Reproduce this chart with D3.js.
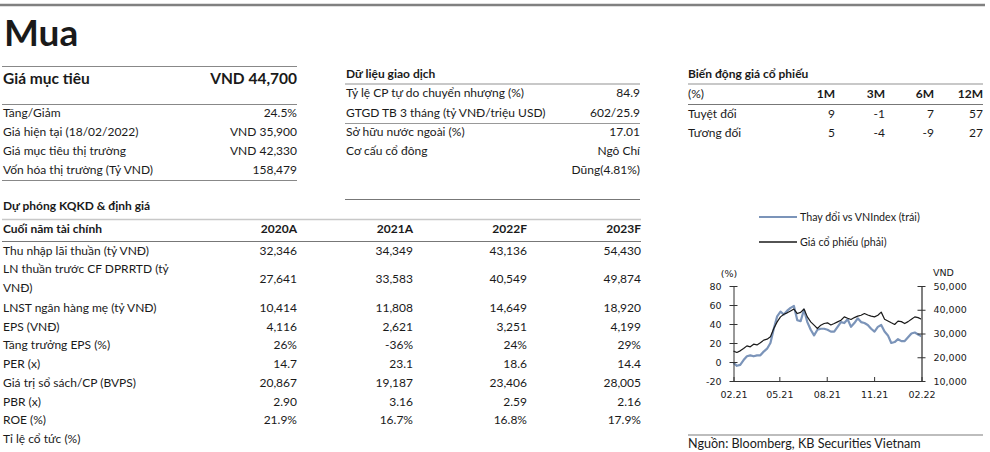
<!DOCTYPE html>
<html><head><meta charset="utf-8">
<script src="https://cdn.jsdelivr.net/npm/d3@7"></script>
<style>
html,body{margin:0;padding:0;background:#fff;}
svg{display:block;font-family:Lato, "Noto Sans", sans-serif;}
</style></head>
<body><svg id="c" width="990" height="452"></svg>
<script>
// ---------- data ----------
const rating = "Mua";
const targetLabel = "Giá mục tiêu";
const targetValue = "VND 44,700";
const summaryLabels = ["Tăng/Giảm", "Giá hiện tại (18/02/2022)", "Giá mục tiêu thị trường", "Vốn hóa thị trường (Tỷ VND)"];
const summaryValues = ["24.5%", "VND 35,900", "VND 42,330", "158,479"];

const tradeTitle = "Dữ liệu giao dịch";
const tradeLabels = ["Tỷ lệ CP tự do chuyển nhượng (%)", "GTGD TB 3 tháng (tỷ VNĐ/triệu USD)", "Sở hữu nước ngoài (%)", "Cơ cấu cổ đông", ""];
const tradeValues = ["84.9", "602/25.9", "17.01", "Ngô Chí", "Dũng(4.81%)"];

const perfTitle = "Biến động giá cổ phiếu";
const perfPeriods = ["1M", "3M", "6M", "12M"];
const perfRows = ["Tuyệt đối", "Tương đối"];
const perfAbs = [9, -1, 7, 57];
const perfRel = [5, -4, -9, 27];

const fcTitle = "Dự phóng KQKD & định giá";
const fcHeader = "Cuối năm tài chính";
const fcYears = ["2020A", "2021A", "2022F", "2023F"];
const fcRows = ["Thu nhập lãi thuần (tỷ VNĐ)", "LN thuần trước CF DPRRTD (tỷ|VNĐ)", "LNST ngân hàng mẹ (tỷ VNĐ)", "EPS (VNĐ)", "Tăng trưởng EPS (%)", "PER (x)", "Giá trị sổ sách/CP (BVPS)", "PBR (x)", "ROE (%)", "Tỉ lệ cổ tức (%)"];
const fc2020 = ["32,346", "27,641", "10,414", "4,116", "26%", "14.7", "20,867", "2.90", "21.9%", ""];
const fc2021 = ["34,349", "33,583", "11,808", "2,621", "-36%", "23.1", "19,187", "3.16", "16.7%", ""];
const fc2022 = ["43,136", "40,549", "14,649", "3,251", "24%", "18.6", "23,406", "2.59", "16.8%", ""];
const fc2023 = ["54,430", "49,874", "18,920", "4,199", "29%", "14.4", "28,005", "2.16", "17.9%", ""];

const chartStart = "2021-02-18", chartEnd = "2022-02-18";
const xTickDates = ["2021-02-18", "2021-05-18", "2021-08-18", "2021-11-18", "2022-02-18"];
const xTickLabels = ["02.21", "05.21", "08.21", "11.21", "02.22"];
const leftTicks = [-20, 0, 20, 40, 60, 80];
const rightTicks = [10000, 20000, 30000, 40000, 50000];
const seriesNames = ["Thay đổi vs VNIndex (trái)", "Giá cổ phiếu (phải)"];
// relative change vs VNIndex (%), roughly weekly
const relChange = [-1,-4,-3,2,6,7,6,7,7,11,14,20,35,48,53,50,54,57,59,44,43,55,42,34,28,34,35,35,34,32,32,37,42,41,45,37,41,46,42,41,39,35,32,37,39,32,28,20,21,24,22,22,26,30,31,29,27];
// share price (VND)
const price = [22600,22000,22700,23700,24800,24400,25500,25200,26100,27200,27600,28600,32100,34900,37000,38100,38700,39500,40300,38400,38900,40300,37000,34900,33500,32100,33500,34200,34500,33600,34200,34900,35600,37000,36400,35900,36700,37300,37700,38400,37800,37300,37000,37700,39000,36000,35300,34500,33800,35200,35000,34200,35000,36000,37000,36700,36000];
const sourceText = "Nguồn: Bloomberg, KB Securities Vietnam";

// ---------- drawing ----------
const svg = d3.select("#c");
const ink = "#1a1a1a";
const axisFont = "'DejaVu Sans', Verdana, sans-serif";
function line(x1, x2, y, color, w) {
  svg.append("line").attr("x1", x1).attr("x2", x2).attr("y1", y).attr("y2", y)
    .attr("stroke", color).attr("stroke-width", w);
}
function text(x, y, s, opts = {}) {
  const t = svg.append("text").attr("x", x).attr("y", y).text(s)
    .attr("fill", opts.fill || ink)
    .attr("font-size", opts.size || 12)
    .attr("font-weight", opts.bold ? 700 : 400)
    .attr("text-anchor", opts.anchor || "start");
  if (opts.family) t.attr("font-family", opts.family);
  return t;
}

// top rule + rating
line(0, 985, 5, "#808080", 2.5);
text(4, 46, rating, {size: 37, bold: true});

// left summary panel
line(2, 297, 66.5, "#888", 1);
text(3, 84, targetLabel, {size: 15.5, bold: true});
text(297, 84, targetValue, {size: 15.5, bold: true, anchor: "end"});
line(2, 297, 104.5, "#888", 1);
summaryLabels.forEach((l, i) => {
  text(3, 117 + i * 19, l);
  text(297, 117 + i * 19, summaryValues[i], {anchor: "end"});
});
line(2, 297, 180.5, "#888", 1);

// trade data panel
text(346, 78, tradeTitle, {bold: true});
line(345, 640, 84, "#c8c8c8", 2);
const tradeY = [97, 116.5, 136, 155, 173.5];
tradeLabels.forEach((l, i) => {
  text(346, tradeY[i], l);
  text(640, tradeY[i], tradeValues[i], {anchor: "end"});
});
line(345, 640, 123.5, "#999", 1);
line(345, 640, 199.5, "#777", 1);

// performance panel
text(688, 78, perfTitle, {bold: true});
line(688, 983, 84, "#c8c8c8", 2);
text(688, 98, "(%)", {});
const perfX = d3.scaleOrdinal().domain(perfPeriods).range([835, 885, 934, 983]);
perfPeriods.forEach((p, i) => {
  text(perfX(p), 98, p, {bold: true, anchor: "end"});
  text(perfX(p), 118, perfAbs[i], {anchor: "end"});
  text(perfX(p), 137, perfRel[i], {anchor: "end"});
});
line(688, 983, 104.5, "#777", 1);
text(688, 118, perfRows[0]);
text(688, 137, perfRows[1]);

// forecast table
text(3, 210, fcTitle, {bold: true});
line(2, 641, 219.5, "#c8c8c8", 1.5);
const colX = d3.scaleOrdinal().domain(fcYears).range([297, 413, 527, 641]);
text(3, 233, fcHeader, {bold: true});
fcYears.forEach(y => text(colX(y), 233, y, {bold: true, anchor: "end"}));
line(2, 641, 241.5, "#777", 1);
const rowY = [255, 283, 312, 330.5, 349, 368, 387, 405.5, 424, 442.5];
const cols = [fc2020, fc2021, fc2022, fc2023];
fcRows.forEach((r, i) => {
  const parts = r.split("|");
  if (parts.length > 1) {
    text(3, rowY[i] - 10, parts[0]);
    text(3, rowY[i] + 9, parts[1]);
  } else text(3, rowY[i], r);
  cols.forEach((c, j) => { if (c[i]) text(colX(fcYears[j]), rowY[i], c[i], {anchor: "end"}); });
});

// ---------- chart ----------
const parse = d3.timeParse("%Y-%m-%d");
const t0 = parse(chartStart), t1 = parse(chartEnd);
const n = price.length;
const dates = d3.range(n).map(i => new Date(+t0 + (t1 - t0) * i / (n - 1)));
const x = d3.scaleTime().domain([t0, t1]).range([733.5, 921.5]);
const yL = d3.scaleLinear().domain([-20, 80]).range([381, 286]);
const yR = d3.scaleLinear().domain([10000, 50000]).range([381, 286]);

// legend
line(759, 797, 217, "#7b94b9", 2.2);
text(800, 220.5, seriesNames[0], {size: 10.7});
line(759, 797, 242, "#1a1a1a", 1.3);
text(800, 245.5, seriesNames[1], {size: 10.7});

// series
svg.append("path").datum(relChange)
  .attr("d", d3.line().x((d, i) => x(dates[i])).y(d => yL(d)))
  .attr("fill", "none").attr("stroke", "#7b94b9").attr("stroke-width", 2.2).attr("stroke-linejoin", "round");
svg.append("path").datum(price)
  .attr("d", d3.line().x((d, i) => x(dates[i])).y(d => yR(d)))
  .attr("fill", "none").attr("stroke", "#1a1a1a").attr("stroke-width", 1.2).attr("stroke-linejoin", "round");

// left axis
const gL = svg.append("g").attr("transform", "translate(733.5,0)")
  .call(d3.axisLeft(yL).tickValues(leftTicks).tickFormat(d => String(d)).tickSize(4).tickSizeOuter(0).tickPadding(8));
gL.selectAll(".tick line").attr("x2", -4).attr("x1", 4).attr("stroke", "#333");
gL.select(".domain").attr("stroke", "#333");
gL.selectAll("text").attr("font-size", 9.5).attr("fill", ink).attr("font-family", axisFont);
// right axis
const gR = svg.append("g").attr("transform", "translate(921.5,0)")
  .call(d3.axisRight(yR).tickValues(rightTicks).tickFormat(d3.format(",")).tickSize(4).tickSizeOuter(0).tickPadding(8));
gR.selectAll(".tick line").attr("x1", -4).attr("x2", 4).attr("stroke", "#333");
gR.select(".domain").attr("stroke", "#808080").attr("stroke-width", 2);
gR.selectAll("text").attr("font-size", 9.5).attr("fill", ink).attr("font-family", axisFont);
// bottom axis
const gB = svg.append("g").attr("transform", "translate(0,381)")
  .call(d3.axisBottom(x).tickValues(xTickDates.map(parse)).tickFormat((d, i) => xTickLabels[i]).tickSize(0).tickPadding(10));
gB.selectAll(".tick line").attr("y2", -4).attr("stroke", "#333");
gB.select(".domain").attr("stroke", "#333");
gB.selectAll("text").attr("font-size", 9.5).attr("fill", ink).attr("font-family", axisFont);

text(729, 277, "(%)", {anchor: "middle", size: 9.5, family: axisFont});
text(933, 276, "VND", {size: 9.5, family: axisFont});

// source
line(688, 983, 435, "#bdbdbd", 2);
text(688, 448, sourceText, {size: 12.6});
</script></body></html>
